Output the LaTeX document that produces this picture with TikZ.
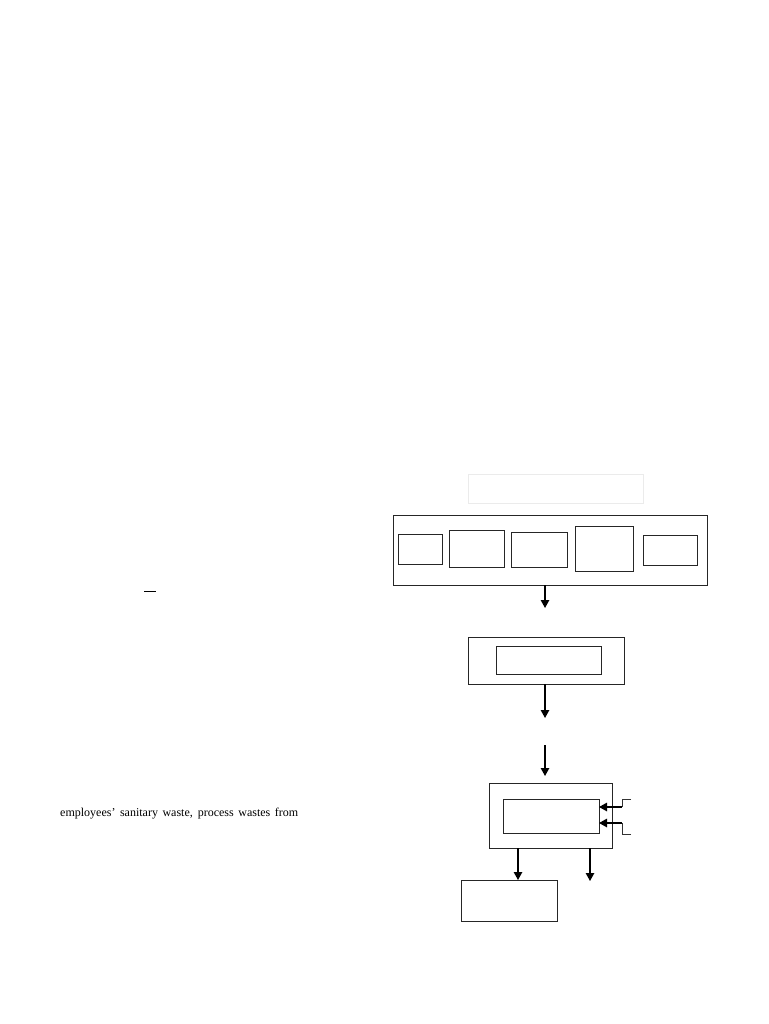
\documentclass[tikz,border=0pt]{standalone}
\usepackage{fontspec}
\setmainfont{Liberation Serif}
\usetikzlibrary{arrows.meta}
\begin{document}
\begin{tikzpicture}[x=1pt,y=-1pt,
  box/.style={draw=black!85, line width=1pt, inner sep=0pt, outer sep=0pt, anchor=north west},
  faint/.style={draw=black!8, line width=0.8pt, inner sep=0pt, outer sep=0pt, anchor=north west},
  arr/.style={draw=black, line width=1.2pt, -{Triangle[length=8pt,width=8.5pt]}},
  stub/.style={draw=black!80, line width=0.9pt}]
\useasboundingbox (0,0) rectangle (768,1024);
% faint title box
\node[faint, minimum width=175pt, minimum height=29pt] (title) at (468,474) {};
% top group
\node[box, minimum width=314pt, minimum height=70pt] (top) at (393,515) {};
\node[box, minimum width=44pt, minimum height=30pt] (t1) at (398,534) {};
\node[box, minimum width=55pt, minimum height=37pt] (t2) at (449,530) {};
\node[box, minimum width=56pt, minimum height=35pt] (t3) at (511,532) {};
\node[box, minimum width=58pt, minimum height=45pt] (t4) at (575,526) {};
\node[box, minimum width=54pt, minimum height=30pt] (t5) at (643,535) {};
% second group
\node[box, minimum width=156pt, minimum height=47pt] (mid) at (468,637) {};
\node[box, minimum width=105pt, minimum height=28pt] (midin) at (496,646) {};
% third group
\node[box, minimum width=123pt, minimum height=65pt] (low) at (489,783) {};
\node[box, minimum width=96pt, minimum height=34pt] (lowin) at (503,799) {};
% bottom box
\node[box, minimum width=96pt, minimum height=41pt] (bot) at (461,880) {};
% coordinates
\coordinate (a1) at (545,608);
\coordinate (a2) at (545,718);
\coordinate (a3s) at (545,745);
\coordinate (a3e) at (545,776);
\coordinate (s1) at (631,799);
\coordinate (s1b) at (622,807);
\coordinate (s2) at (631,834);
\coordinate (s2b) at (622,823);
\coordinate (r1) at (590,881);
% arrows
\draw[arr] (top.south -| a1) -- (a1);
\draw[arr] (mid.south -| a2) -- (a2);
\draw[arr] (a3s) -- (a3e);
\draw[stub] (s1) -- (s1 -| s1b) -- (s1b);
\draw[stub] (s2) -- (s2 -| s2b) -- (s2b);
\draw[arr] (s1b) -- (lowin.east |- s1b);
\draw[arr] (s2b) -- (lowin.east |- s2b);
\draw[arr] (low.south -| 518,0) -- (bot.north -| 518,0);
\draw[arr] (low.south -| r1) -- (r1);
% text fragments
\draw[line width=0.9pt] (144,591) -- (156,591) coordinate (dashend);
\node[anchor=base west, inner sep=0pt, font=\fontsize{12}{15}\selectfont] (txt) at (60,816)
  {\makebox[238pt][s]{employees’ sanitary waste, process wastes from}};
\end{tikzpicture}
\end{document}
